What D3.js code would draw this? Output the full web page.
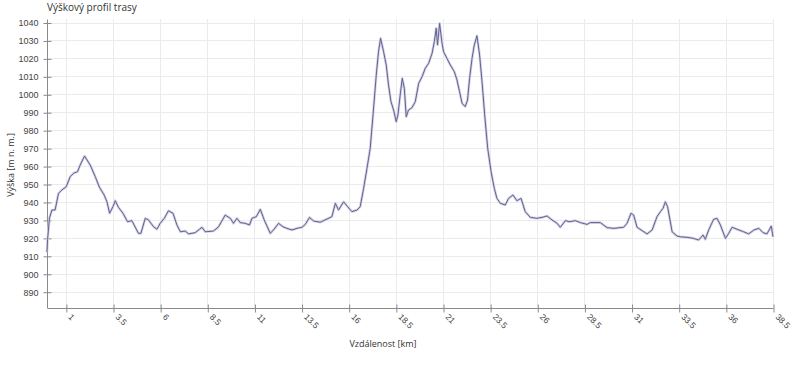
<!DOCTYPE html>
<html><head><meta charset="utf-8">
<script src="https://cdn.jsdelivr.net/npm/d3@7/dist/d3.min.js"></script>
<style>
body{margin:0;background:#fff;}
svg{display:block;font-family:"Open Sans","Noto Sans",sans-serif;}
</style></head>
<body><svg id="c" width="800" height="367"></svg>
<script>
const title = "Výškový profil trasy";
const xLabel = "Vzdálenost [km]";
const yLabel = "Výška [m n. m.]";
const xTicks = [1,3.5,6,8.5,11,13.5,16,18.5,21,23.5,26,28.5,31,33.5,36,38.5];
const yTicks = [890,900,910,920,930,940,950,960,970,980,990,1000,1010,1020,1030,1040];
const distanceKm = [0,0.03,0.13,0.26,0.43,0.61,0.79,1.02,1.23,1.41,1.62,1.76,1.99,2.29,2.56,2.78,3.03,3.18,3.32,3.50,3.62,3.79,4.03,4.27,4.50,4.85,4.98,5.21,5.38,5.65,5.83,6.00,6.22,6.44,6.68,6.89,7.07,7.33,7.51,7.86,8.09,8.22,8.39,8.83,9.10,9.45,9.72,9.89,10.07,10.25,10.51,10.74,10.87,11.10,11.31,11.52,11.84,12.01,12.28,12.51,12.72,12.99,13.26,13.52,13.70,13.92,14.14,14.49,14.85,15.11,15.29,15.46,15.73,15.94,16.17,16.44,16.61,16.79,16.97,17.14,17.29,17.46,17.58,17.69,17.85,17.99,18.11,18.24,18.38,18.52,18.61,18.73,18.84,18.95,19.05,19.17,19.35,19.53,19.71,19.89,20.06,20.24,20.42,20.54,20.64,20.71,20.82,20.95,21.03,21.21,21.39,21.60,21.74,21.88,22.01,22.18,22.30,22.41,22.54,22.66,22.80,22.94,23.07,23.21,23.37,23.55,23.72,23.86,24.04,24.30,24.48,24.71,24.92,25.14,25.36,25.63,25.98,26.25,26.52,26.78,27.05,27.22,27.49,27.71,28.02,28.28,28.64,28.81,29.34,29.70,30.05,30.58,30.76,30.97,31.11,31.29,31.56,31.82,32.09,32.35,32.53,32.67,32.79,32.91,33.15,33.41,33.59,33.94,34.29,34.56,34.79,34.91,35.09,35.35,35.53,35.71,35.98,36.15,36.33,36.59,36.94,37.21,37.49,37.75,37.97,38.18,38.41,38.50];
const elevationM = [912,919,931,935.5,935.5,944.8,946.7,948.5,954.1,956,956.9,960.6,965.6,960.6,954.1,948.2,943.9,940.1,933.7,937.4,940.7,937,933.7,929,929.6,922.5,922.5,930.9,930,926.2,924.8,928.1,930.9,935.1,933.7,927.2,923.4,923.8,922.2,922.9,924.8,925.9,923.4,923.8,926.2,932.7,930.9,928.1,930.9,928.5,928.1,927.2,930.9,931.8,935.9,930,922.5,924.4,928.1,926.2,925.3,924.4,925.3,925.9,927.5,931.4,929.4,928.7,930.5,931.8,939.3,935.5,940.1,937.4,934.6,935.5,937.4,947.6,958.8,969.9,988.5,1010.7,1023.7,1031.2,1023.7,1016.3,1005.2,995.9,991.2,984.7,988.5,999.6,1008.9,1003.3,987.5,991.2,992.5,995.9,1006.1,1009.8,1014.5,1017.3,1022.8,1029.3,1036.8,1027.5,1039.5,1028.4,1023.7,1020,1016.3,1012.6,1008,1001.4,995,993.1,996.8,1008.9,1020,1027.5,1032.6,1021.9,1007,988.5,969.9,956.9,947.6,942,939.3,938.3,942,943.9,940.7,942,934.6,931.4,930.9,931.4,932.2,930,928.1,925.9,929.6,929,929.6,928.5,927.5,928.5,928.5,925.7,925.3,925.9,928.1,933.7,932.7,925.9,924,922.2,924.4,931.8,934.6,936.5,940.1,937.4,923.4,921,920.6,920.3,919.7,918.8,921.6,919.2,924.4,930.3,930.9,927.2,919.7,922.5,925.9,924.8,923.4,922.2,924.4,925.3,922.9,922.2,926.6,920.6];

const svg = d3.select("#c");
const L = 47, R = 773, T = 19, B = 307.7;
const x = d3.scaleLinear().domain([0, 38.5]).range([L, R]);
const y = d3.scaleLinear().domain([890, 1040]).range([291.7, 22.5]);

// grid
const g = svg.append("g");
g.selectAll(".hg").data(yTicks).join("line")
  .attr("x1", L).attr("x2", R).attr("y1", d => Math.round(y(d)) + 0.5).attr("y2", d => Math.round(y(d)) + 0.5)
  .attr("stroke", "#ebebeb").attr("stroke-width", 1);
g.selectAll(".vg").data(xTicks).join("line")
  .attr("y1", T).attr("y2", B).attr("x1", d => Math.round(x(d)) + 0.5).attr("x2", d => Math.round(x(d)) + 0.5)
  .attr("stroke", "#ebebeb").attr("stroke-width", 1);

// axes
const xAxis = d3.axisBottom(x).tickValues(xTicks).tickFormat(d => String(d)).tickSizeInner(4).tickSizeOuter(0);
const xa = svg.append("g").attr("transform", `translate(0.5,${Math.round(B)+0.5})`).call(xAxis);
xa.select(".domain").attr("stroke", "#8a8a8a").attr("d", `M${L},0H${R}`);
xa.selectAll(".tick line").attr("stroke", "#8a8a8a").attr("y1", -4).attr("y2", 4);
xa.selectAll(".tick text").attr("fill", "#444").attr("font-size", 8.5)
  .attr("text-anchor", "start").attr("dy", 0).attr("y", 0)
  .attr("transform", "translate(1,9) rotate(45)");

const yAxis = d3.axisLeft(y).tickValues(yTicks).tickFormat(d3.format("d")).tickSizeInner(4).tickSizeOuter(0);
const ya = svg.append("g").attr("transform", `translate(${L+0.5},0.5)`).call(yAxis);
ya.select(".domain").attr("stroke", "#8a8a8a").attr("d", `M0,${T}V${B}`);
ya.selectAll(".tick line").attr("stroke", "#8a8a8a").attr("x1", -4).attr("x2", 4);
ya.selectAll(".tick text").attr("fill", "#444").attr("font-size", 9).attr("x", -9);

// line
const pts = distanceKm.map((d, i) => [d, elevationM[i]]);
const line = d3.line().x(d => x(d[0])).y(d => y(d[1]));
svg.append("path").attr("d", line(pts)).attr("fill", "none")
  .attr("stroke", "#d2d2e6").attr("stroke-width", 2.6).attr("stroke-linejoin", "round");
svg.append("path").attr("d", line(pts)).attr("fill", "none")
  .attr("stroke", "#62628f").attr("stroke-width", 1).attr("stroke-linejoin", "round");

// texts
svg.append("text").attr("x", 47).attr("y", 11).attr("font-size", 10).attr("fill", "#333").text(title);
svg.append("text").attr("x", 383).attr("y", 347).attr("text-anchor", "middle").attr("font-size", 9).attr("fill", "#333").text(xLabel);
svg.append("text").attr("transform", "translate(14,165) rotate(-90)").attr("text-anchor", "middle").attr("font-size", 9).attr("fill", "#333").text(yLabel);
</script></body></html>
